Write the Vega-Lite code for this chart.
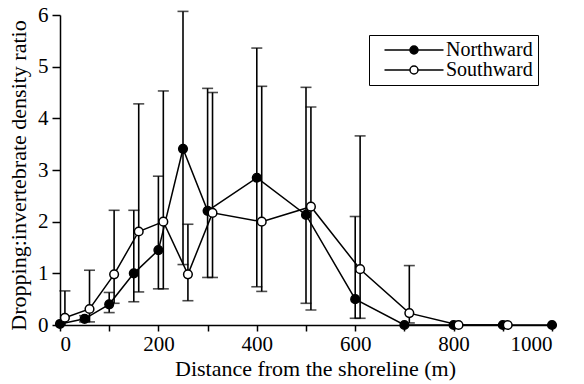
{
  "$schema": "https://vega.github.io/schema/vega-lite/v6.json",
  "width": 492,
  "height": 310,
  "autosize": {"type": "none"},
  "padding": {"left": 60, "top": 15, "right": 32, "bottom": 59},
  "background": "white",
  "config": {
    "view": {"stroke": null},
    "font": "Liberation Serif, Times New Roman, serif",
    "style": {
      "guide-label": {"font": "Liberation Serif, Times New Roman, serif", "fill": "black"},
      "guide-title": {"font": "Liberation Serif, Times New Roman, serif", "fill": "black"}
    },
    "axis": {
      "grid": false,
      "domainColor": "black",
      "domainWidth": 1.5,
      "tickColor": "black",
      "tickWidth": 1.5,
      "labelColor": "black",
      "titleColor": "black",
      "labelFont": "Liberation Serif, Times New Roman, serif",
      "titleFont": "Liberation Serif, Times New Roman, serif",
      "labelFontSize": 21,
      "titleFontSize": 22,
      "titleFontWeight": "normal"
    },
    "legend": {
      "labelFont": "Liberation Serif, Times New Roman, serif",
      "labelFontSize": 20,
      "labelColor": "black"
    }
  },
  "data": {
    "values": [
      {"dir": "Northward", "x": 0, "y": 0.02, "lo": null, "hi": null},
      {"dir": "Northward", "x": 50, "y": 0.12, "lo": 0.06, "hi": 0.18},
      {"dir": "Northward", "x": 100, "y": 0.40, "lo": 0.24, "hi": 0.63},
      {"dir": "Northward", "x": 150, "y": 1.00, "lo": 0.45, "hi": 2.22},
      {"dir": "Northward", "x": 200, "y": 1.45, "lo": 0.70, "hi": 2.88},
      {"dir": "Northward", "x": 250, "y": 3.41, "lo": 1.17, "hi": 6.07},
      {"dir": "Northward", "x": 300, "y": 2.21, "lo": 0.92, "hi": 4.58},
      {"dir": "Northward", "x": 400, "y": 2.85, "lo": 0.74, "hi": 5.36},
      {"dir": "Northward", "x": 500, "y": 2.13, "lo": 0.42, "hi": 4.60},
      {"dir": "Northward", "x": 600, "y": 0.50, "lo": 0.13, "hi": 2.10},
      {"dir": "Northward", "x": 700, "y": 0, "lo": null, "hi": null},
      {"dir": "Northward", "x": 800, "y": 0, "lo": null, "hi": null},
      {"dir": "Northward", "x": 900, "y": 0, "lo": null, "hi": null},
      {"dir": "Northward", "x": 1000, "y": 0, "lo": null, "hi": null},
      {"dir": "Southward", "x": 10, "y": 0.14, "lo": 0, "hi": 0.66},
      {"dir": "Southward", "x": 60, "y": 0.31, "lo": 0.06, "hi": 1.06},
      {"dir": "Southward", "x": 110, "y": 0.98, "lo": 0.42, "hi": 2.22},
      {"dir": "Southward", "x": 160, "y": 1.81, "lo": 0.64, "hi": 4.28},
      {"dir": "Southward", "x": 210, "y": 2.00, "lo": 0.70, "hi": 4.53},
      {"dir": "Southward", "x": 260, "y": 0.98, "lo": 0.47, "hi": 1.95},
      {"dir": "Southward", "x": 310, "y": 2.17, "lo": 0.92, "hi": 4.50},
      {"dir": "Southward", "x": 410, "y": 2.00, "lo": 0.65, "hi": 4.62},
      {"dir": "Southward", "x": 510, "y": 2.29, "lo": 0.29, "hi": 4.22},
      {"dir": "Southward", "x": 610, "y": 1.08, "lo": 0.13, "hi": 3.66},
      {"dir": "Southward", "x": 710, "y": 0.23, "lo": 0.04, "hi": 1.15},
      {"dir": "Southward", "x": 810, "y": 0, "lo": null, "hi": null},
      {"dir": "Southward", "x": 910, "y": 0, "lo": null, "hi": null}
    ]
  },
  "encoding": {
    "x": {
      "field": "x", "type": "quantitative",
      "scale": {"domain": [0, 1000], "nice": false},
      "axis": {
        "title": "Distance from the shoreline (m)",
        "values": [0, 100, 200, 300, 400, 500, 600, 700, 800, 900, 1000],
        "labelExpr": "datum.value % 200 === 0 ? datum.label : ''",
        "format": "d",
        "tickSize": 6,
        "labelPadding": 2,
        "titlePadding": 4,
        "titleX": 255
      }
    }
  },
  "layer": [
    {
      "transform": [{"filter": "datum.hi != null"}],
      "mark": {"type": "rule", "color": "black", "strokeWidth": 1.6},
      "encoding": {
        "y": {"field": "lo", "type": "quantitative"},
        "y2": {"field": "hi"},
        "detail": {"field": "dir"}
      }
    },
    {
      "transform": [{"filter": "datum.hi != null"}],
      "mark": {"type": "tick", "color": "black", "orient": "horizontal", "size": 11, "thickness": 1.6},
      "encoding": {
        "y": {"field": "hi", "type": "quantitative"}
      }
    },
    {
      "transform": [{"filter": "datum.hi != null && datum.lo > 0"}],
      "mark": {"type": "tick", "color": "black", "orient": "horizontal", "size": 11, "thickness": 1.6},
      "encoding": {
        "y": {"field": "lo", "type": "quantitative"}
      }
    },
    {
      "mark": {"type": "line", "color": "black", "strokeWidth": 1.5},
      "encoding": {
        "y": {"field": "y", "type": "quantitative"},
        "detail": {"field": "dir"},
        "order": {"field": "x"}
      }
    },
    {
      "mark": {"type": "point", "filled": true, "shape": "circle", "size": 75, "stroke": "black", "strokeWidth": 1.5, "opacity": 1},
      "encoding": {
        "y": {
          "field": "y", "type": "quantitative",
          "scale": {"domain": [0, 6], "nice": false},
          "axis": {
            "title": "Dropping:invertebrate density ratio",
            "values": [0, 1, 2, 3, 4, 5, 6],
            "tickSize": 8,
            "labelPadding": 4,
            "titlePadding": 7,
            "titleY": 160
          }
        },
        "fill": {
          "field": "dir", "type": "nominal",
          "scale": {"domain": ["Northward", "Southward"], "range": ["black", "white"]},
          "legend": {
            "title": null,
            "orient": "none",
            "legendX": 309,
            "legendY": 20,
            "strokeColor": "black",
            "padding": 5,
            "symbolType": "M-5.9,0L-0.8,0M0.8,0L5.9,0M-0.8,0A0.8,0.8 0 1,1 0.8,0A0.8,0.8 0 1,1 -0.8,0Z",
            "symbolSize": 100,
            "symbolStrokeColor": "black",
            "symbolStrokeWidth": 1.5,
            "symbolOffset": 30,
            "labelOffset": 22,
            "rowPadding": -7
          }
        }
      }
    }
  ]
}
